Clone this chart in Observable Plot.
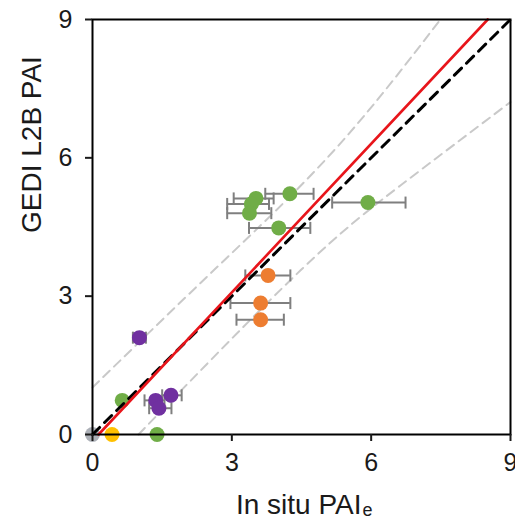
<!DOCTYPE html>
<html>
<head>
<meta charset="utf-8">
<script src="https://cdn.jsdelivr.net/npm/d3@7"></script>
<script src="https://cdn.jsdelivr.net/npm/@observablehq/plot@0.6"></script>
<style>
  html, body { margin: 0; padding: 0; background: white; }
</style>
</head>
<body>
<div id="chart"></div>
<script>
// ---- data ----
const xTicks = [0, 3, 6, 9];
const yTicks = [0, 3, 6, 9];
const xTitle = "In situ PAI";
const xTitleSub = "e";
const yTitle = "GEDI L2B PAI";

const greenX  = [4.25, 3.52, 3.42, 3.38, 5.93, 4.01, 0.64, 1.39];
const greenY  = [5.22, 5.12, 5.00, 4.80, 5.03, 4.48, 0.74, 0.00];
const greenLo = [3.72, 3.04, 2.90, 2.90, 5.16, 3.37, null, null];
const greenHi = [4.76, 3.90, 3.80, 3.85, 6.74, 4.69, null, null];

const orangeX  = [3.78, 3.62, 3.62];
const orangeY  = [3.45, 2.85, 2.49];
const orangeLo = [3.29, 2.97, 3.10];
const orangeHi = [4.26, 4.26, 4.12];

const purpleX  = [1.01, 1.36, 1.43, 1.69];
const purpleY  = [2.10, 0.74, 0.57, 0.85];
const purpleLo = [0.87, 1.12, 1.22, 1.50];
const purpleHi = [1.15, 1.55, 1.70, 1.92];

const yellowX = [0.42];
const yellowY = [0.00];

const grayX = [0.00];
const grayY = [0.00];

// 1:1 line, regression line, prediction band lines
const oneToOneX = [0, 9];
const oneToOneY = [0, 9];
const regX = [0.13, 8.51];
const regY = [0.00, 9.00];
const upperBandX = [0.00, 2.61, 5.20, 7.49];
const upperBandY = [1.02, 3.56, 6.16, 9.00];
const lowerBandX = [0.99, 4.48, 6.63, 9.00];
const lowerBandY = [0.00, 3.56, 5.40, 7.21];

// ---- build tables ----
const colors = {green: "#70ad47", orange: "#ed7d31", purple: "#7030a0", yellow: "#ffc000", gray: "#adb1b8"};
function rows(group, xs, ys, los, his) {
  return xs.map((x, i) => ({group, x, y: ys[i], lo: los ? los[i] : null, hi: his ? his[i] : null}));
}
const points = [
  ...rows("gray", grayX, grayY),
  ...rows("yellow", yellowX, yellowY),
  ...rows("green", greenX, greenY, greenLo, greenHi),
  ...rows("purple", purpleX, purpleY, purpleLo, purpleHi),
  ...rows("orange", orangeX, orangeY, orangeLo, orangeHi)
];
const bars = points.filter(d => d.lo != null && d.hi != null);
const caps = bars.flatMap(d => [{x: d.lo, y: d.y}, {x: d.hi, y: d.y}]);
const line = (xs, ys) => xs.map((x, i) => ({x, y: ys[i]}));

const capSymbol = {
  draw(context, size) {
    const r = Math.sqrt(size / Math.PI);
    context.moveTo(0, -r);
    context.lineTo(0, r);
  }
};

const font = "'Liberation Sans', Arial, Helvetica, sans-serif";

const chart = Plot.plot({
  width: 515,
  height: 522,
  marginLeft: 92,
  marginRight: 5,
  marginTop: 19,
  marginBottom: 88,
  x: {domain: [0, 9]},
  y: {domain: [0, 9]},
  style: {fontFamily: font, background: "white", color: "#1a1a1a", overflow: "visible"},
  marks: [
    Plot.line(line(upperBandX, upperBandY), {x: "x", y: "y", stroke: "#c9c9c9", strokeWidth: 2, strokeDasharray: "9,6", curve: "natural"}),
    Plot.line(line(lowerBandX, lowerBandY), {x: "x", y: "y", stroke: "#c9c9c9", strokeWidth: 2, strokeDasharray: "9,6", curve: "natural"}),
    Plot.ruleY(bars, {y: "y", x1: "lo", x2: "hi", stroke: "#7f7f7f", strokeWidth: 2}),
    Plot.dot(caps, {x: "x", y: "y", symbol: capSymbol, r: 6, stroke: "#7f7f7f", strokeWidth: 2}),
    Plot.dot(points, {x: "x", y: "y", r: 7.5, fill: d => colors[d.group], stroke: null}),
    Plot.line(line(oneToOneX, oneToOneY), {x: "x", y: "y", stroke: "black", strokeWidth: 3, strokeDasharray: "10,7"}),
    Plot.line(line(regX, regY), {x: "x", y: "y", stroke: "#e8151b", strokeWidth: 2.6}),
    Plot.frame({stroke: "black", strokeWidth: 2}),
    Plot.axisX({ticks: xTicks, tickSize: 7, tickPadding: 12, fontSize: 25, label: null, strokeWidth: 2}),
    Plot.axisY({ticks: yTicks, tickSize: 7, tickPadding: 13, fontSize: 25, label: null, strokeWidth: 2}),
    Plot.text([yTitle], {frameAnchor: "left", rotate: -90, dx: -60, dy: 6, fontSize: 28, fill: "#1a1a1a"}),
    Plot.text([xTitle], {frameAnchor: "bottom", textAnchor: "end", lineAnchor: "top", dx: 60, dy: 60, fontSize: 28, fill: "#1a1a1a"}),
    Plot.text([xTitleSub], {frameAnchor: "bottom", textAnchor: "start", lineAnchor: "top", dx: 61, dy: 69, fontSize: 18, fill: "#1a1a1a"})
  ]
});
document.getElementById("chart").appendChild(chart);
</script>
</body>
</html>
